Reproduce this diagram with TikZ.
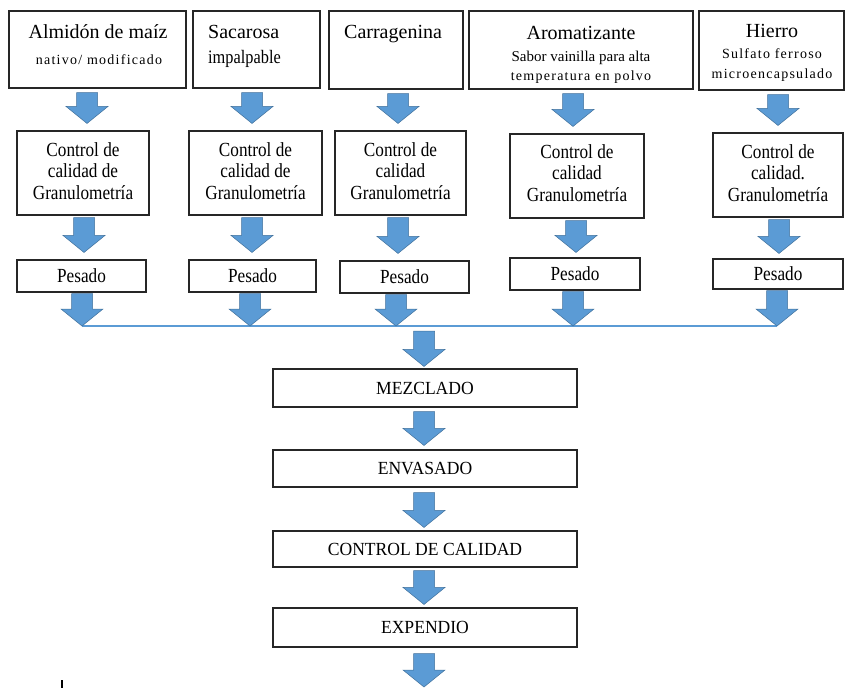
\documentclass[tikz,border=0pt]{standalone}
\usepackage{fontspec}
\setmainfont{Liberation Serif}
\newfontfamily\condfont[FakeStretch=0.86]{Liberation Serif}
\newfontfamily\spacedfont[LetterSpace=9]{Liberation Serif}
\newfontfamily\centfont[FakeStretch=0.95]{Liberation Serif}
\usetikzlibrary{calc}
\definecolor{arrfill}{RGB}{91,155,213}
\definecolor{arredge}{RGB}{65,113,156}
% block arrow: #1 = x, #2 = start anchor, #3 = end anchor, #4 = gap at top, #5 = gap at tip
\newcommand\barrow[5]{%
  \path[blockarr] let \p1=(#2), \p2=(#3) in
    (#1pt-10.5pt,\y1-#4pt) -- (#1pt+10.5pt,\y1-#4pt) -- (#1pt+10.5pt,\y2+#5pt+17pt)
    -- (#1pt+21pt,\y2+#5pt+17pt) -- (#1pt,\y2+#5pt) -- (#1pt-21pt,\y2+#5pt+17pt)
    -- (#1pt-10.5pt,\y2+#5pt+17pt) -- cycle;}
\begin{document}
\begin{tikzpicture}[x=1pt,y=-1pt,
  box/.style={draw=black!85,line width=1.1pt,inner sep=0pt},
  blockarr/.style={fill=arrfill,draw=arredge,line width=0.5pt},
  ttl/.style={anchor=base,inner sep=0pt,font=\fontsize{20}{24}\selectfont},
  sub/.style={anchor=base,inner sep=0pt,font=\spacedfont\fontsize{14}{16}\selectfont},
  ctext/.style={align=center,inner sep=0pt,font=\condfont\fontsize{20}{21.5}\selectfont},
  mtext/.style={inner sep=0pt,font=\centfont\fontsize{18.5}{20}\selectfont}]
\fill[white] (0,0) rectangle (847,688);
\useasboundingbox (0,0) rectangle (847,688);

% top boxes
\node[box,minimum width=177pt,minimum height=77pt] (t1) at (97.5,49.5) {};
\node[box,minimum width=127pt,minimum height=77pt] (t2) at (256.5,49.5) {};
\node[box,minimum width=134pt,minimum height=78pt] (t3) at (396,50) {};
\node[box,minimum width=224pt,minimum height=78pt] (t4) at (581,50) {};
\node[box,minimum width=145pt,minimum height=79pt] (t5) at (771.5,50.5) {};

\node[ttl] (t1a) at (98,38) {Almidón de maíz};
\node[sub] (t1b) at (99,64) {nativo/ modificado};
\node[ttl,anchor=base west] (t2a) at (208,38) {Sacarosa};
\node[anchor=base west,inner sep=0pt,font=\condfont\fontsize{19}{21}\selectfont] (t2b) at (208,63) {impalpable};
\node[ttl,anchor=base west] (t3a) at (344,38) {Carragenina};
\node[ttl] (t4a) at (581,39) {Aromatizante};
\node[anchor=base,inner sep=0pt,font=\fontsize{15}{17}\selectfont] (t4b) at (581,61) {Sabor vainilla para alta};
\node[sub] (t4c) at (581,80) {temperatura en polvo};
\node[ttl] (t5a) at (772,37) {Hierro};
\node[sub] (t5b) at (772,58) {Sulfato ferroso};
\node[sub] (t5c) at (772,78) {microencapsulado};

% control boxes
\node[box,minimum width=132pt,minimum height=84pt] (c1) at (83,173) {};
\node[box,minimum width=133pt,minimum height=84pt] (c2) at (255.5,173) {};
\node[box,minimum width=131pt,minimum height=84pt] (c3) at (400.5,173) {};
\node[box,minimum width=134pt,minimum height=84pt] (c4) at (577,176) {};
\node[box,minimum width=130pt,minimum height=84pt] (c5) at (778,175) {};
\node[ctext] (c1t) at (83,171) {Control de\\calidad de\\Granulometría};
\node[ctext] (c2t) at (255.5,171) {Control de\\calidad de\\Granulometría};
\node[ctext] (c3t) at (400.5,171) {Control de\\calidad\\Granulometría};
\node[ctext] (c4t) at (577,173) {Control de\\calidad\\Granulometría};
\node[ctext] (c5t) at (778,173) {Control de\\calidad.\\Granulometría};

% pesado boxes
\node[box,minimum width=129pt,minimum height=32pt] (p1) at (81.5,276) {};
\node[box,minimum width=127pt,minimum height=32pt] (p2) at (252.5,276) {};
\node[box,minimum width=129pt,minimum height=32pt] (p3) at (404.5,277) {};
\node[box,minimum width=130pt,minimum height=32pt] (p4) at (575,274) {};
\node[box,minimum width=130pt,minimum height=30pt] (p5) at (778,274) {};
\foreach \n in {1,...,5} {\node[ctext] (p\n t) at (p\n) {Pesado};}

% joining line
\coordinate (l1) at (82,326);
\coordinate (l2) at (777,326);
\draw[arrfill,line width=1.8pt] (l1) -- (l2);

% central boxes
\node[box,minimum width=304pt,minimum height=38pt] (m) at (425,388) {};
\node[box,minimum width=304pt,minimum height=37pt] (e) at (425,468.5) {};
\node[box,minimum width=304pt,minimum height=36pt] (q) at (425,549) {};
\node[box,minimum width=304pt,minimum height=39pt] (x) at (425,627.5) {};
\node[mtext] (mt) at (m) {MEZCLADO};
\node[mtext] (et) at (e) {ENVASADO};
\node[mtext] (qt) at (q) {CONTROL DE CALIDAD};
\node[mtext] (xt) at (x) {EXPENDIO};
\coordinate (lm) at (424,326);
\coordinate (fin) at (424,688);

% arrows: top -> control
\barrow{87}{t1.south}{c1.north}{4}{7}
\barrow{252}{t2.south}{c2.north}{4}{7}
\barrow{398}{t3.south}{c3.north}{4}{7}
\barrow{573}{t4.south}{c4.north}{4}{7}
\barrow{778}{t5.south}{c5.north}{4}{7}
% control -> pesado
\barrow{84}{c1.south}{p1.north}{2}{7}
\barrow{252}{c2.south}{p2.north}{2}{7}
\barrow{398}{c3.south}{p3.north}{2}{7}
\barrow{576}{c4.south}{p4.north}{2}{5}
\barrow{779}{c5.south}{p5.north}{2}{5}
% pesado -> line
\barrow{82}{p1.south}{l1}{1}{0}
\barrow{250}{p2.south}{l1}{1}{0}
\barrow{396}{p3.south}{l1}{1}{0}
\barrow{573}{p4.south}{l1}{1}{0}
\barrow{777}{p5.south}{l1}{1}{0}
% central chain
\barrow{424}{lm}{m.north}{5}{2}
\barrow{424}{m.south}{e.north}{4}{4}
\barrow{424}{e.south}{q.north}{5}{3}
\barrow{424}{q.south}{x.north}{3}{3}
\barrow{424}{x.south}{fin}{6}{1}

% small mark bottom left
\coordinate (k1) at (62,680);
\coordinate (k2) at (62,688);
\draw[black,line width=2.2pt] (k1) -- (k2);
\end{tikzpicture}
\end{document}
